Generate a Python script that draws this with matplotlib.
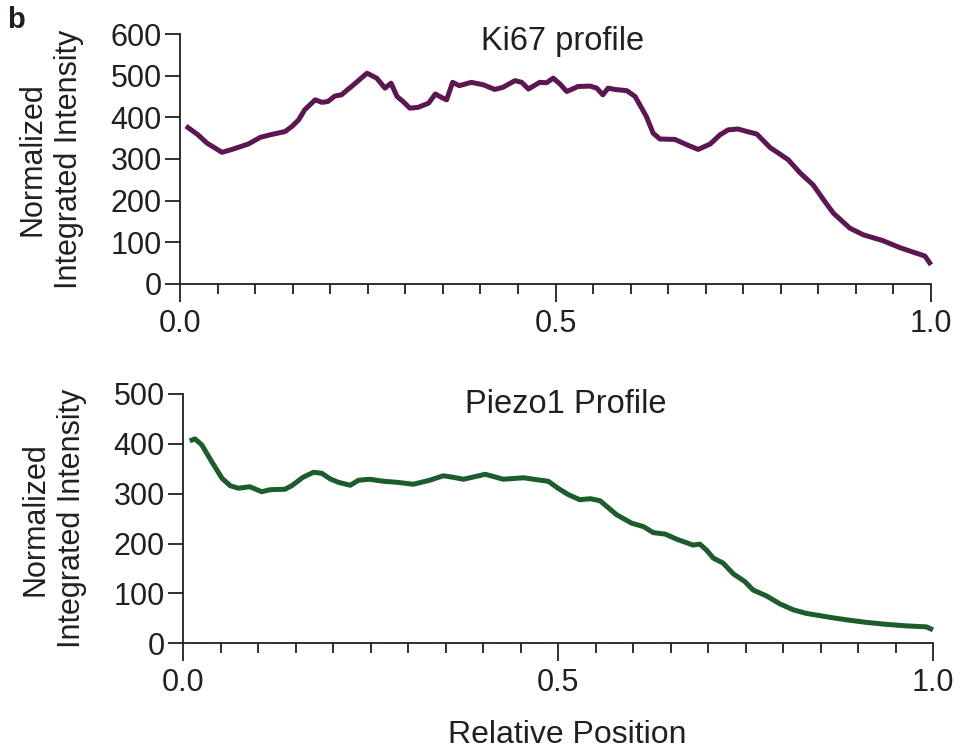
import matplotlib
matplotlib.use("Agg")
import matplotlib.pyplot as plt
from matplotlib.ticker import MultipleLocator, FormatStrFormatter

plt.rcParams['font.family'] = ['Liberation Sans', 'DejaVu Sans']

# Ki67 profile
ki67_x = [0.008, 0.024, 0.036, 0.056, 0.071, 0.091, 0.107, 0.12, 0.14, 0.149, 0.158,
          0.166, 0.18, 0.189, 0.197, 0.206, 0.215, 0.231, 0.249, 0.262, 0.273, 0.281, 0.289,
          0.297, 0.306, 0.317, 0.331, 0.34, 0.348, 0.355, 0.363, 0.372, 0.388, 0.404, 0.419,
          0.43, 0.446, 0.455, 0.464, 0.479, 0.488, 0.497, 0.506, 0.515, 0.530, 0.546, 0.555,
          0.563, 0.570, 0.579, 0.595, 0.606, 0.621, 0.630, 0.639, 0.659, 0.675, 0.690, 0.706,
          0.719, 0.730, 0.743, 0.755, 0.768, 0.786, 0.797, 0.810, 0.826, 0.843, 0.857, 0.870,
          0.892, 0.910, 0.936, 0.959, 0.992, 1.0]
ki67_y = [379, 358, 338, 316, 324, 336, 352, 358, 366, 378, 394,
          418, 442, 436, 438, 451, 454, 478, 506, 494, 470, 482, 450,
          438, 422, 424, 434, 456, 448, 442, 484, 476, 484, 478, 467,
          472, 488, 484, 468, 484, 483, 494, 480, 462, 474, 475, 470,
          454, 470, 467, 464, 450, 402, 362, 348, 347, 334, 323, 336,
          358, 370, 372, 366, 360, 327, 314, 298, 266, 238, 202, 170,
          134, 118, 104, 87, 67, 46]

# Piezo1 profile
piezo_x = [0.009, 0.016, 0.025, 0.038, 0.052, 0.063, 0.074, 0.089, 0.105, 0.116, 0.136,
           0.145, 0.160, 0.174, 0.185, 0.196, 0.207, 0.223, 0.234, 0.249, 0.267, 0.285, 0.307,
           0.329, 0.347, 0.360, 0.374, 0.403, 0.427, 0.454, 0.472, 0.487, 0.500, 0.514, 0.529,
           0.543, 0.556, 0.578, 0.598, 0.614, 0.627, 0.643, 0.658, 0.680, 0.689, 0.698, 0.707,
           0.720, 0.734, 0.749, 0.760, 0.778, 0.796, 0.814, 0.831, 0.863, 0.885, 0.911, 0.938,
           0.964, 0.991, 1.0]
piezo_y = [406, 410, 398, 365, 331, 316, 311, 314, 304, 308, 309,
           316, 333, 343, 341, 330, 323, 317, 327, 329, 325, 323, 319,
           327, 336, 333, 329, 339, 329, 332, 328, 325, 311, 298, 288,
           290, 286, 258, 241, 234, 222, 219, 209, 197, 199, 187, 171,
           161, 139, 124, 107, 95, 79, 67, 60, 52, 47, 42, 38,
           35, 33, 27]

INK = '#231F20'
panels = [
    dict(x=ki67_x, y=ki67_y, color='#5C1753', title='Ki67 profile', ymax=600,
         rect=[180/963, 1-284/754, 751/963, 250/754], title_xy=(0.509, 0.936)),
    dict(x=piezo_x, y=piezo_y, color='#1D5C2E', title='Piezo1 Profile', ymax=500,
         rect=[183/963, 1-643.3/754, 750/963, 249.3/754], title_xy=(0.510, 0.9226)),
]

fig = plt.figure(figsize=(9.63, 7.54), dpi=100)
for p in panels:
    ax = fig.add_axes(p['rect'])
    ax.plot(p['x'], p['y'], color=p['color'], lw=3.6, clip_on=False,
            solid_joinstyle='round', solid_capstyle='butt')
    ax.set_xlim(0, 1)
    ax.set_ylim(0, p['ymax'])
    ax.yaxis.set_major_locator(MultipleLocator(100))
    ax.xaxis.set_major_locator(MultipleLocator(0.5))
    ax.xaxis.set_minor_locator(MultipleLocator(0.05))
    ax.xaxis.set_major_formatter(FormatStrFormatter('%.1f'))
    for s in ['top', 'right']:
        ax.spines[s].set_visible(False)
    for s in ['left', 'bottom']:
        ax.spines[s].set_linewidth(1.3)
        ax.spines[s].set_color(INK)
    ax.tick_params(axis='y', which='major', length=11, width=1.3, labelsize=22,
                   color=INK, labelcolor=INK, pad=2)
    ax.tick_params(axis='x', which='major', length=13, width=1.3, labelsize=22,
                   color=INK, labelcolor=INK, pad=5)
    ax.tick_params(axis='x', which='minor', length=7, width=1.3, color=INK)
    ax.text(-0.172, 0.5, 'Normalized\nIntegrated Intensity', transform=ax.transAxes,
            rotation=90, ha='center', va='center', multialignment='center',
            fontsize=22, color=INK, linespacing=1.3)
    ax.text(p['title_xy'][0], p['title_xy'][1], p['title'], transform=ax.transAxes,
            ha='center', va='baseline', fontsize=23.5, color=INK)
    ax.set_facecolor('none')

fig.text(567.5/963, 1-742.7/754, 'Relative Position', ha='center', va='baseline',
         fontsize=23, color=INK)
fig.text(7/963, 1-28/754, 'b', ha='left', va='baseline', fontsize=21, fontweight='bold',
         color=INK)

fig.savefig('out.png', dpi=100)
